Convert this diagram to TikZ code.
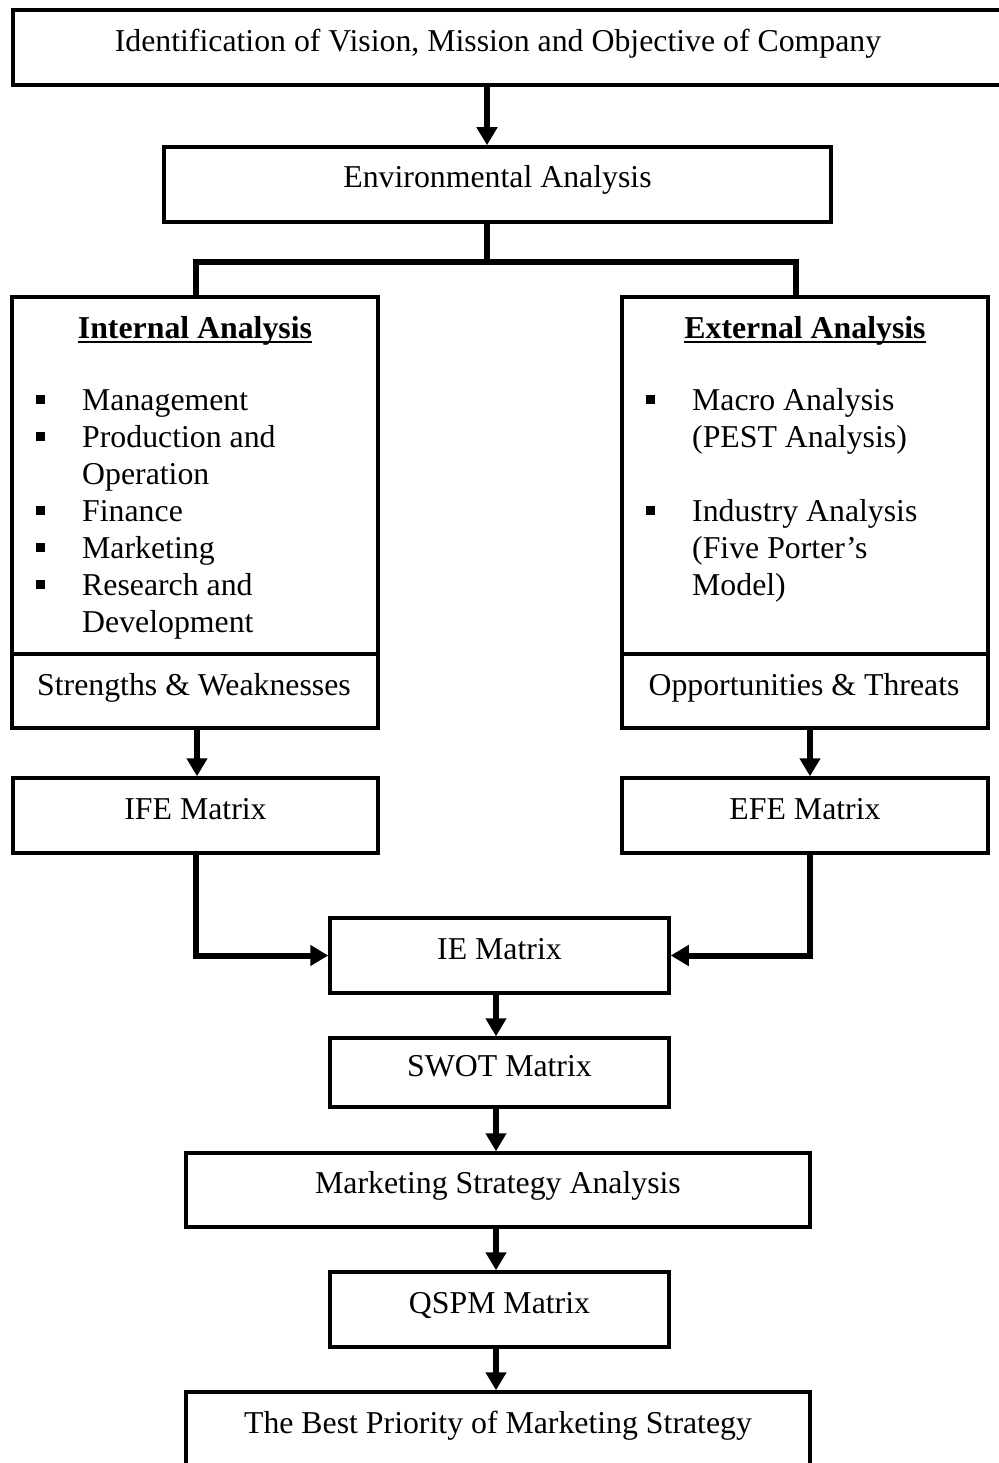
\documentclass[tikz,border=0pt]{standalone}
\usepackage{fontspec}
\setmainfont{Liberation Serif}
\usetikzlibrary{arrows.meta}
\newcommand\bodysize{\fontsize{31.8pt}{37pt}\selectfont}
\newcommand\sqbullet{\makebox[46pt][l]{\raisebox{6pt}{\rule{9pt}{9pt}}}}
\newcommand\nobullet{\hspace*{46pt}}

\begin{document}
\begin{tikzpicture}[x=1pt,y=-1pt,
  box/.style={draw, line width=3.5pt, rectangle, inner sep=0pt, fill=white,
              font=\bodysize, text height=22pt, text depth=15pt},
  txt/.style={inner sep=0pt, font=\bodysize},
  conn/.style={line width=6pt, line join=miter},
  arr/.style={conn, -{Triangle[length=18pt,width=20pt]}},
]
\useasboundingbox (0,0) rectangle (998,1463);
\fill[white] (0,0) rectangle (998,1463);

% boxes of the flow
\node[box, minimum width=997pt, minimum height=75pt] (top) at (511.5,47.5) {};
\node[txt, anchor=base] (toptext) at (498,52) {Identification of Vision, Mission and Objective of Company};
\node[box, minimum width=667pt, minimum height=75pt] (env) at (497.5,184.5) {Environmental Analysis};
\node[box, minimum width=366pt, minimum height=431pt] (int) at (195,512.5) {};
\node[box, minimum width=366pt, minimum height=431pt] (ext) at (805,512.5) {};
\node[box, minimum width=365pt, minimum height=75pt] (ife) at (195.5,815.5) {IFE Matrix};
\node[box, minimum width=366pt, minimum height=75pt] (efe) at (805,815.5) {EFE Matrix};
\node[box, minimum width=339pt, minimum height=75pt] (ie) at (499.5,955.5) {IE Matrix};
\node[box, minimum width=339pt, minimum height=69pt] (swot) at (499.5,1072.5) {SWOT Matrix};
\node[box, minimum width=624pt, minimum height=74pt] (msa) at (498,1190) {Marketing Strategy Analysis};
\node[box, minimum width=339pt, minimum height=75pt] (qspm) at (499.5,1309.5) {QSPM Matrix};
\node[box, minimum width=624pt, minimum height=75pt] (best) at (498,1429.5) {The Best Priority of Marketing Strategy};

% dividers above the summary rows
\coordinate (divy) at (0,654);
\draw[line width=3.5pt] (int.west |- divy) -- (int.east |- divy);
\draw[line width=3.5pt] (ext.west |- divy) -- (ext.east |- divy);

% internal analysis contents
\node[txt, anchor=base, font=\bodysize\bfseries] (ititle) at (195,338) {Internal Analysis};
\draw[line width=2pt] ([yshift=-4pt]ititle.base west) -- ([yshift=-4pt]ititle.base east);
\foreach \t [count=\i from 0] in {\sqbullet Management, \sqbullet Production and,
    \nobullet Operation, \sqbullet Finance, \sqbullet Marketing,
    \sqbullet Research and, \nobullet Development}
  \node[txt, anchor=base west] (il\i) at (36,410+37*\i) {\t};
\node[txt, anchor=base] (sw) at (194,695) {Strengths \& Weaknesses};

% external analysis contents
\node[txt, anchor=base, font=\bodysize\bfseries] (etitle) at (805,338) {External Analysis};
\draw[line width=2pt] ([yshift=-4pt]etitle.base west) -- ([yshift=-4pt]etitle.base east);
\node[txt, anchor=base west] (el1) at (646,410) {\sqbullet Macro Analysis};
\node[txt, anchor=base west] (el2) at (646,447) {\nobullet (PEST Analysis)};
\node[txt, anchor=base west] (el3) at (646,521) {\sqbullet Industry Analysis};
\node[txt, anchor=base west] (el4) at (646,558) {\nobullet (Five Porter’s};
\node[txt, anchor=base west] (el5) at (646,595) {\nobullet Model)};
\node[txt, anchor=base] (ot) at (804,695) {Opportunities \& Threats};

% connectors
\coordinate (split) at (487,262);
\coordinate (col) at (496,0);
\draw[arr] (top.south -| split) -- (env.north -| split);
\draw[conn] (env.south -| split) -- (split);
\draw[conn] ([xshift=1pt]int.north) |- (split) -| ([xshift=-9pt]ext.north);
\draw[arr] ([xshift=2pt]int.south) -- ([xshift=2pt]int.south |- ife.north);
\draw[arr] ([xshift=5pt]ext.south) -- ([xshift=5pt]ext.south |- efe.north);
\draw[arr] ([xshift=0.5pt]ife.south) |- (ie.west);
\draw[arr] ([xshift=5pt]efe.south) |- (ie.east);
\draw[arr] (ie.south -| col) -- (swot.north -| col);
\draw[arr] (swot.south -| col) -- (msa.north -| col);
\draw[arr] (msa.south -| col) -- (qspm.north -| col);
\draw[arr] (qspm.south -| col) -- (best.north -| col);
\end{tikzpicture}
\end{document}
